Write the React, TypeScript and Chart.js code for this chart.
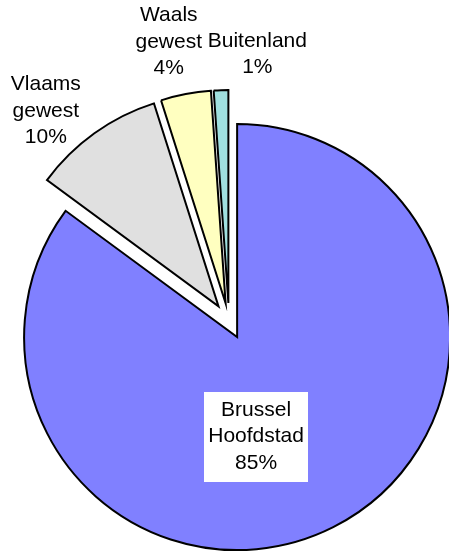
import React, { useEffect, useRef } from 'react';
import { Chart, ArcElement, PieController, registerables } from 'chart.js';

Chart.register(...registerables);

// ---- data ----
const categories = ['Brussel Hoofdstad', 'Vlaams gewest', 'Waals gewest', 'Buitenland'];
const shares = [85.1, 10.0, 3.8, 1.1];
const sliceColors = ['#8080FF', '#E0E0E0', '#FFFFC0', '#A0E0E0'];
const explodeOffsets = [18, 18, 18, 18];
// label placement relative to each slice (radius as fraction of pie radius, angle shift in degrees)
const labelRadius = [0.548, 1.315, 1.349, 1.268];
const labelAngleShift = [13.4, -5.2, -1.3, 8.0];

const percentLabels = shares.map((v) => `${Math.round(v)}%`);

// Arc that is exploded by a pure radial translation (same radius for every slice)
class ExplodedArc extends ArcElement {
  static id = 'explodedArc';
  draw(ctx: CanvasRenderingContext2D) {
    const opts: any = (this as any).options;
    const shift = opts.offset || 0;
    const mid = ((this as any).startAngle + (this as any).endAngle) / 2;
    ctx.save();
    ctx.translate(Math.cos(mid) * shift, Math.sin(mid) * shift);
    (this as any).options = Object.assign({}, opts, { offset: 0 });
    super.draw(ctx);
    (this as any).options = opts;
    ctx.restore();
  }
}

class ExplodedPieController extends PieController {
  static id = 'explodedPie';
  static defaults = { dataElementType: 'explodedArc' };
}

Chart.register(ExplodedArc as any, ExplodedPieController as any);

const FONT_SIZE = 21;
const LINE_H = 26.5;

const labelPlugin = {
  id: 'sliceLabels',
  afterDatasetsDraw(chart: any) {
    const ctx: CanvasRenderingContext2D = chart.ctx;
    const meta = chart.getDatasetMeta(0);
    ctx.save();
    ctx.font = `${FONT_SIZE}px "Liberation Sans", Arial, sans-serif`;
    ctx.textAlign = 'center';
    ctx.textBaseline = 'alphabetic';
    meta.data.forEach((el: any, i: number) => {
      const { x, y, startAngle, endAngle, outerRadius } = el.getProps(
        ['x', 'y', 'startAngle', 'endAngle', 'outerRadius'],
        true
      );
      const a = (startAngle + endAngle) / 2 + (labelAngleShift[i] * Math.PI) / 180;
      const r = outerRadius * labelRadius[i];
      const cx = x + Math.cos(a) * r;
      const cy = y + Math.sin(a) * r;
      const lines = [...categories[i].split(' '), percentLabels[i]];
      const n = lines.length;
      if (i === 0) {
        const maxW = Math.max(...lines.map((t) => ctx.measureText(t).width));
        ctx.fillStyle = '#FFFFFF';
        ctx.fillRect(Math.round(cx - maxW / 2 - 4), Math.round(cy - 42.5), Math.round(maxW + 8), 90);
      }
      ctx.fillStyle = '#000000';
      lines.forEach((t, k) => {
        ctx.fillText(t, cx, cy + (k - (n - 1) / 2) * LINE_H + 0.358 * FONT_SIZE);
      });
    });
    ctx.restore();
  },
};

export default function App() {
  const ref = useRef<HTMLCanvasElement | null>(null);

  useEffect(() => {
    if (!ref.current) return;
    const chart = new Chart(ref.current, {
      type: 'explodedPie' as any,
      data: {
        labels: categories,
        datasets: [
          {
            data: shares,
            backgroundColor: sliceColors,
            borderColor: '#000000',
            borderWidth: 2,
            borderJoinStyle: 'miter',
            offset: explodeOffsets,
            hoverOffset: 0,
          } as any,
        ],
      },
      options: {
        responsive: false,
        animation: false,
        events: [],
        layout: { padding: { left: 6, top: 98, right: 18, bottom: 9 } },
        plugins: {
          legend: { display: false },
          tooltip: { enabled: false },
        },
      } as any,
      plugins: [labelPlugin],
    });
    return () => chart.destroy();
  }, []);

  return (
    <div
      style={{
        position: 'fixed',
        left: 0,
        top: 0,
        width: 449,
        height: 553,
        overflow: 'hidden',
        background: '#ffffff',
      }}
    >
      <canvas ref={ref} width={470} height={553} style={{ display: 'block' }} />
    </div>
  );
}
